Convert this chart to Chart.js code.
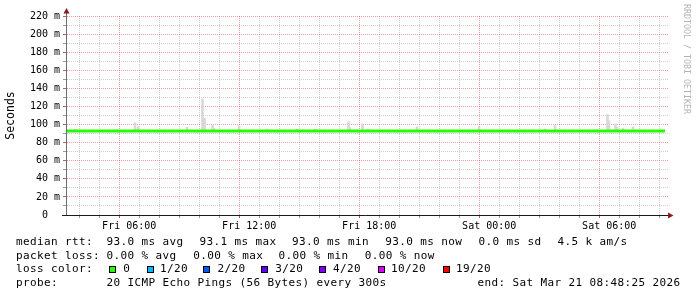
<!DOCTYPE html>
<html>
<head>
<meta charset="utf-8">
<script src="https://cdn.jsdelivr.net/npm/chart.js@4.4.1/dist/chart.umd.min.js"></script>
<style>
  html, body { margin: 0; padding: 0; background: #fff; }
  #wrap { position: relative; width: 697px; height: 297px; overflow: hidden; background: #fff; }
  #c { position: absolute; left: 0; top: 0; }
  .t { position: absolute; white-space: pre; font-family: 'DejaVu Sans Mono', monospace; font-size: 11px;
       letter-spacing: 0.38px; line-height: 14px; color: #000; }
  .box { position: absolute; width: 5px; height: 5px; border: 1px solid #000; }
  #rrd { position: absolute; left: 682px; top: 4px; writing-mode: vertical-rl; white-space: pre;
         font-family: 'DejaVu Sans Mono', monospace; font-size: 8.3px; line-height: 9px; color: #b4b4b4; }
</style>
</head>
<body>
<div id="wrap">
  <canvas id="c" width="697" height="297"></canvas>
  <div id="rrd">RRDTOOL / TOBI OETIKER</div>
</div>
<script>
// ---- data (time in hours since Fri 00:00, values in ms) ----
const X_MIN = 2.89;
const X_MAX = 32.94;
const medianTimes  = [2.89, 32.79];
const medianValues = [93.0, 93.0];
const smokeTimes = [3.29, 6.29, 6.44, 8.89, 9.665, 9.765, 10.165, 10.24, 11.49, 12.89, 14.39, 15.29,
                    16.965, 17.04, 17.665, 17.94, 20.39, 23.49, 26.79, 27.29, 29.915, 29.99, 30.315, 30.39, 30.69, 31.19];
const smokeLow   = [93, 93, 93, 93, 93, 93, 93, 93, 93, 93, 93, 93,
                    93, 93, 93, 93, 93, 93, 93, 93, 93, 93, 93, 93, 93, 93];
const smokeHigh  = [95, 102, 97.6, 97, 128, 107, 99, 96, 98.5, 95, 95, 95,
                    103, 96.5, 100.5, 95, 97.6, 97.6, 95, 99, 111, 104, 100.5, 97, 96, 97.6];
const xTickHours  = [6, 12, 18, 24, 30];
const xTickLabels = ['Fri 06:00', 'Fri 12:00', 'Fri 18:00', 'Sat 00:00', 'Sat 06:00'];
const yTickValues = [0, 20, 40, 60, 80, 100, 120, 140, 160, 180, 200, 220];
const yTickLabels = ['0', '20 m', '40 m', '60 m', '80 m', '100 m', '120 m', '140 m', '160 m', '180 m', '200 m', '220 m'];
const lossLabels = ['0', '1/20', '2/20', '3/20', '4/20', '10/20', '19/20'];
const lossColors = ['#26ff00', '#00b8ff', '#0059ff', '#5e00ff', '#7e00ff', '#dd00ff', '#ff0000'];

// ---- legend text (real HTML text) ----
const legendSegs = [
  [234.5, [[16, 'median rtt:'], [106.5, '93.0 ms avg'], [199.5, '93.1 ms max'], [292, '93.0 ms min'], [385.3, '93.0 ms now'], [478.6, '0.0 ms sd'], [557.6, '4.5 k am/s']]],
  [248.5, [[16, 'packet loss:'], [106.5, '0.00 % avg'], [193.3, '0.00 % max'], [278.6, '0.00 % min'], [364.8, '0.00 % now']]],
  [262.2, [[16, 'loss color:']]],
  [276, [[16, 'probe:'], [106.5, '20 ICMP Echo Pings (56 Bytes) every 300s'], [477.5, 'end: Sat Mar 21 08:48:25 2026']]]
];
const boxX   = [108.7, 146.7, 203.3, 261.3, 319.3, 378, 442.7];
const labelX = [123.3, 160, 217.6, 275.3, 333, 391, 456];
const wrap = document.getElementById('wrap');
legendSegs.forEach(([top, segs]) => {
  segs.forEach(([x, txt]) => {
    const d = document.createElement('div');
    d.className = 't'; d.style.left = x + 'px'; d.style.top = top + 'px'; d.textContent = txt;
    wrap.appendChild(d);
  });
});
lossLabels.forEach((lab, i) => {
  const b = document.createElement('div');
  b.className = 'box'; b.style.left = boxX[i] + 'px'; b.style.top = '266px'; b.style.background = lossColors[i];
  wrap.appendChild(b);
  const d = document.createElement('div');
  d.className = 't'; d.style.left = labelX[i] + 'px'; d.style.top = '262.2px'; d.textContent = lab;
  wrap.appendChild(d);
});

// ---- chart ----
const MAJOR = 'rgba(220,60,60,0.5)';
const MINOR = 'rgba(150,150,150,0.45)';
const axesPlugin = {
  id: 'rrdAxes',
  afterDatasetsDraw(chart) {
    const { ctx, chartArea: a } = chart;
    ctx.save();
    ctx.lineWidth = 1;
    ctx.strokeStyle = '#6e6e6e';
    ctx.beginPath(); ctx.moveTo(66.5, a.bottom); ctx.lineTo(66.5, 12); ctx.stroke();
    ctx.strokeStyle = '#1a1a1a';
    ctx.beginPath(); ctx.moveTo(62, 215.5); ctx.lineTo(669, 215.5); ctx.stroke();
    ctx.fillStyle = '#8b1a1a';
    ctx.beginPath(); ctx.moveTo(63.5, 13.5); ctx.lineTo(69.5, 13.5); ctx.lineTo(66.5, 8); ctx.closePath(); ctx.fill();
    ctx.beginPath(); ctx.moveTo(668, 212.5); ctx.lineTo(668, 218.5); ctx.lineTo(673.5, 215.5); ctx.closePath(); ctx.fill();
    ctx.restore();
  }
};

const smokeData = smokeTimes.map((t, i) => ({ x: t, y: [smokeLow[i], smokeHigh[i]] }));
const medianData = medianTimes.map((t, i) => ({ x: t, y: medianValues[i] }));
const monoTick = { family: "'DejaVu Sans Mono', monospace", size: 10 };
const isMajorX = v => xTickHours.includes(v);
const isMajorY = v => yTickValues.includes(v);

new Chart(document.getElementById('c'), {
  data: {
    datasets: [
      { type: 'bar', data: smokeData, backgroundColor: '#d8d8d8', borderWidth: 0,
        barThickness: 2, grouped: false, order: 2 },
      { type: 'line', data: medianData, borderColor: '#26ff00', borderWidth: 3,
        pointRadius: 0, borderCapStyle: 'butt', tension: 0, order: 1 }
    ]
  },
  options: {
    responsive: false, animation: false, devicePixelRatio: 1,
    layout: { padding: { left: 0, top: 16, right: 29, bottom: 62 } },
    plugins: { legend: { display: false }, tooltip: { enabled: false } },
    scales: {
      x: {
        type: 'linear', min: X_MIN, max: X_MAX, offset: false,
        afterFit(s) { s.height = 20; },
        afterBuildTicks(s) { const t = []; for (let h = 3; h <= 32; h++) t.push({ value: h }); s.ticks = t; },
        grid: {
          color: c => (c.tick && isMajorX(c.tick.value)) ? MAJOR : MINOR,
          tickColor: c => (c.tick && isMajorX(c.tick.value)) ? '#b06060' : '#999',
          lineWidth: 1, tickLength: 3, drawTicks: true
        },
        border: { display: false, dash: [1, 1] },
        ticks: {
          autoSkip: false, maxRotation: 0, minRotation: 0, padding: 2, color: '#000', font: monoTick,
          callback(v) { const i = xTickHours.indexOf(v); return i >= 0 ? xTickLabels[i] : ''; }
        }
      },
      y: {
        min: 0, max: 220,
        afterFit(s) { s.width = 67; },
        afterBuildTicks(s) { const t = []; for (let v = 0; v <= 220; v += 10) t.push({ value: v }); s.ticks = t; },
        grid: {
          color: c => (c.tick && isMajorY(c.tick.value)) ? MAJOR : MINOR,
          tickColor: c => (c.tick && isMajorY(c.tick.value)) ? '#b06060' : '#999',
          lineWidth: 1, tickLength: 4, drawTicks: true
        },
        border: { display: false, dash: [1, 1] },
        ticks: {
          autoSkip: false, padding: 3, color: '#000', font: monoTick,
          callback(v) {
            const i = yTickValues.indexOf(v);
            if (i < 0) return '';
            const l = yTickLabels[i];
            return l.indexOf(' ') < 0 ? l + '  ' : l;
          }
        },
        title: { display: true, text: 'Seconds', color: '#000',
                 font: { family: "'DejaVu Sans Mono', monospace", size: 11.5 }, padding: { top: 4, bottom: 0 } }
      }
    }
  },
  plugins: [axesPlugin]
});
</script>
</body>
</html>
